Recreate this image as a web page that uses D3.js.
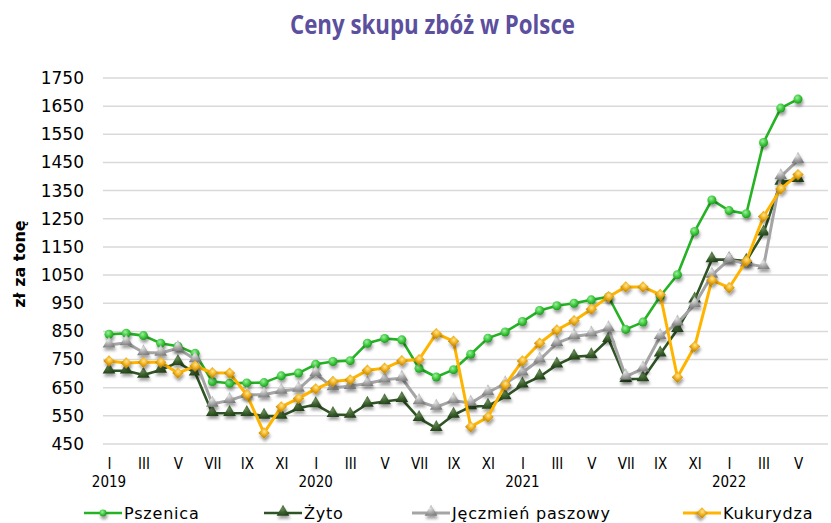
<!doctype html>
<html lang="pl">
<head>
<meta charset="utf-8">
<title>Ceny skupu zbóż w Polsce</title>
<script src="https://cdn.jsdelivr.net/npm/d3@7"></script>
<style>
    body { margin: 0; background: #fff; }
    svg { display: block; }
</style>
</head>
<body>
<svg id="chart"></svg>
<script>
    // months I.2019 - V.2022
    const monthLabels = ["I","II","III","IV","V","VI","VII","VIII","IX","X","XI","XII",
        "I","II","III","IV","V","VI","VII","VIII","IX","X","XI","XII",
        "I","II","III","IV","V","VI","VII","VIII","IX","X","XI","XII",
        "I","II","III","IV","V"];
    const yearLabels = ["2019", "2020", "2021", "2022"];
    const yTicks = [450, 550, 650, 750, 850, 950, 1050, 1150, 1250, 1350, 1450, 1550, 1650, 1750];

    const pszenica = [840, 843, 835, 808, 797, 772, 672, 666, 667, 668, 692, 702,
        733, 743, 746, 808, 825, 820, 719, 688, 714, 769, 826, 848,
        885, 924, 941, 950, 962, 973, 857, 883, 975, 1051, 1205, 1317,
        1279, 1268, 1521, 1643, 1675];
    const zyto = [710, 710, 695, 713, 740, 703, 559, 559, 559, 549, 549, 577,
        590, 555, 553, 592, 601, 609, 541, 506, 553, 583, 585, 618,
        660, 689, 731, 760, 764, 822, 680, 682, 770, 857, 962, 1105,
        1105, 1100, 1200, 1380, 1390];
    const jeczmien = [802, 810, 775, 773, 790, 750, 592, 605, 625, 625, 638, 645,
        700, 650, 655, 665, 678, 684, 601, 581, 605, 595, 633, 665,
        703, 749, 808, 832, 841, 860, 689, 718, 832, 880, 945, 1050,
        1105, 1090, 1080, 1400, 1458];
    const kukurydza = [745, 738, 740, 740, 702, 727, 703, 702, 625, 489, 582, 612,
        646, 672, 678, 712, 719, 746, 750, 842, 815, 511, 546, 660,
        745, 808, 855, 888, 929, 973, 1008, 1008, 981, 687, 796, 1032,
        1005, 1100, 1258, 1356, 1407];

    const series = [
        { name: "Pszenica", values: pszenica, line: "#25b225", width: 2.6, symbol: "circle", grad: "gGreen" },
        { name: "Żyto", values: zyto, line: "#2f5425", width: 2.6, symbol: "triangle", grad: "gDark" },
        { name: "Jęczmień paszowy", values: jeczmien, line: "#a5a5a5", width: 3, symbol: "triangle", grad: "gGray" },
        { name: "Kukurydza", values: kukurydza, line: "#ffb400", width: 3, symbol: "diamond", grad: "gGold" }
    ];

    const W = 831, H = 523;
    const svg = d3.select("#chart").attr("width", W).attr("height", H);

    // gradients + shadow
    const defs = svg.append("defs");
    const f = defs.append("filter").attr("id", "shadow")
        .attr("x", "-50%").attr("y", "-50%").attr("width", "200%").attr("height", "220%");
    f.append("feDropShadow").attr("dx", 1).attr("dy", 3).attr("stdDeviation", 1.8)
        .attr("flood-color", "#000").attr("flood-opacity", 0.38);

    const grads = {
        gGreen: ["#9bf09b", "#3cc83c", "#1c8e1c"],
        gDark: ["#6c8c5c", "#3a5f2c", "#22401a"],
        gGray: ["#e6e6e6", "#a8a8a8", "#7c7c7c"],
        gGold: ["#ffe590", "#f2b422", "#c98c08"]
    };
    Object.entries(grads).forEach(([id, c]) => {
        const g = defs.append("radialGradient").attr("id", id)
            .attr("cx", "40%").attr("cy", "35%").attr("r", "70%");
        g.append("stop").attr("offset", "0%").attr("stop-color", c[0]);
        g.append("stop").attr("offset", "55%").attr("stop-color", c[1]);
        g.append("stop").attr("offset", "100%").attr("stop-color", c[2]);
    });

    const x = d3.scalePoint().domain(d3.range(monthLabels.length)).range([109, 798]);
    const y = d3.scaleLinear().domain([450, 1750]).range([444, 78]);

    // title
    svg.append("text")
        .attr("x", 290).attr("y", 34)
        .attr("textLength", 285)
        .attr("lengthAdjust", "spacingAndGlyphs")
        .style("font-family", "'Open Sans', 'DejaVu Sans', sans-serif")
        .style("font-weight", "bold")
        .style("font-size", "27px")
        .style("fill", "#5b4f9e")
        .text("Ceny skupu zbóż w Polsce");

    // gridlines
    svg.append("g").selectAll("line")
        .data(yTicks)
        .join("line")
        .attr("x1", 103).attr("x2", 828)
        .attr("y1", d => y(d)).attr("y2", d => y(d))
        .attr("stroke", "#d9d9d9").attr("stroke-width", 1.5);

    // y axis labels
    const yAxis = d3.axisLeft(y).tickValues(yTicks).tickFormat(d3.format("d"))
        .tickSize(0).tickPadding(0);
    const gy = svg.append("g").attr("transform", "translate(84,0)").call(yAxis);
    gy.select(".domain").remove();
    gy.selectAll("text")
        .style("font-family", "'DejaVu Sans', Verdana, sans-serif")
        .style("font-size", "17px")
        .style("fill", "#000");

    svg.append("text")
        .attr("transform", "translate(25,264) rotate(-90)")
        .attr("text-anchor", "middle")
        .style("font-family", "'DejaVu Sans', Verdana, sans-serif")
        .style("font-weight", "bold")
        .style("font-size", "16px")
        .text("zł za tonę");

    // x axis labels (every second month, year under January)
    const xAxis = d3.axisBottom(x)
        .tickValues(x.domain().filter(i => i % 2 === 0))
        .tickFormat(i => monthLabels[i])
        .tickSize(0).tickPadding(0);
    const gx = svg.append("g").attr("transform", "translate(0,457)").call(xAxis);
    gx.select(".domain").remove();
    gx.selectAll("text")
        .attr("dy", "0.8em")
        .style("font-family", "'DejaVu Sans Condensed', 'DejaVu Sans', sans-serif")
        .style("font-size", "15px")
        .style("fill", "#000");

    const januaries = x.domain().filter(i => monthLabels[i] === "I");
    svg.append("g").selectAll("text")
        .data(januaries)
        .join("text")
        .attr("x", d => x(d)).attr("y", 487)
        .attr("text-anchor", "middle")
        .style("font-family", "'DejaVu Sans Condensed', 'DejaVu Sans', sans-serif")
        .style("font-size", "15px")
        .text((d, i) => yearLabels[i]);

    // symbols
    function symbolPath(kind, s) {
        if (kind === "circle") return d3.symbol(d3.symbolCircle, 64 * s)();
        if (kind === "triangle") return d3.symbol(d3.symbolTriangle, 70 * s)();
        return d3.symbol(d3.symbolSquare, 64 * s)();
    }
    function symbolTransform(kind, px, py) {
        if (kind === "diamond") return `translate(${px},${py}) rotate(45)`;
        if (kind === "triangle") return `translate(${px},${py - 1})`;
        return `translate(${px},${py})`;
    }

    const line = d3.line().x((d, i) => x(i)).y(d => y(d));

    series.forEach(s => {
        svg.append("path")
            .datum(s.values)
            .attr("fill", "none")
            .attr("stroke", s.line)
            .attr("stroke-width", s.width)
            .attr("stroke-linejoin", "round")
            .attr("d", line);

        svg.append("g").attr("filter", "url(#shadow)")
            .selectAll("path")
            .data(s.values)
            .join("path")
            .attr("d", symbolPath(s.symbol, 1))
            .attr("transform", (d, i) => symbolTransform(s.symbol, x(i), y(d)))
            .attr("fill", `url(#${s.grad})`);
    });

    // legend
    const legendX = [84, 264, 412, 683];
    const leg = svg.append("g").selectAll("g")
        .data(series)
        .join("g")
        .attr("transform", (d, i) => `translate(${legendX[i]},513)`);
    leg.append("line")
        .attr("x1", 0).attr("x2", 38)
        .attr("stroke", d => d.line).attr("stroke-width", d => d.width);
    leg.append("path")
        .attr("filter", "url(#shadow)")
        .attr("d", d => symbolPath(d.symbol, d.symbol === "circle" ? 0.6 : 1))
        .attr("transform", d => symbolTransform(d.symbol, 19, 0))
        .attr("fill", d => `url(#${d.grad})`);
    leg.append("text")
        .attr("x", 40).attr("y", 6)
        .style("font-family", "'DejaVu Sans', Verdana, sans-serif")
        .style("font-size", "16px")
        .style("letter-spacing", "0.8px")
        .text(d => d.name);
</script>
</body>
</html>
